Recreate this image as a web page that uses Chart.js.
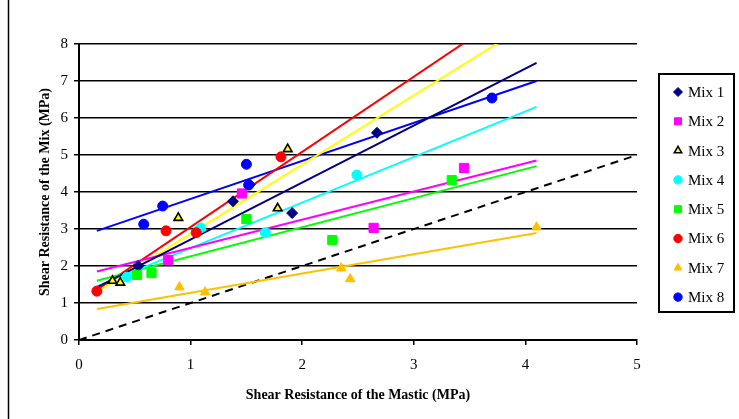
<!DOCTYPE html>
<html>
<head>
<meta charset="utf-8">
<script src="https://cdn.jsdelivr.net/npm/chart.js@4.4.1/dist/chart.umd.min.js"></script>
<style>
  html, body { margin: 0; padding: 0; background: #ffffff; }
  #wrap { width: 739px; height: 419px; position: relative; }
</style>
</head>
<body>
<div id="wrap"><canvas id="c" width="739" height="419"></canvas></div>
<script>
// ---- Data ----
const seriesNames = ['Mix 1', 'Mix 2', 'Mix 3', 'Mix 4', 'Mix 5', 'Mix 6', 'Mix 7', 'Mix 8'];

const mix1X = [0.53, 1.38, 1.53, 1.91, 2.67];
const mix1Y = [2.00, 3.75, 4.20, 3.43, 5.60];
const mix2X = [0.80, 1.46, 2.64, 3.45];
const mix2Y = [2.16, 3.96, 3.03, 4.65];
const mix3X = [0.30, 0.37, 0.89, 1.78, 1.87];
const mix3Y = [1.60, 1.55, 3.30, 3.56, 5.16];
const mix4X = [0.43, 1.09, 1.67, 2.49];
const mix4Y = [1.70, 3.03, 2.90, 4.46];
const mix5X = [0.52, 0.65, 1.50, 2.27, 3.34];
const mix5Y = [1.76, 1.81, 3.27, 2.70, 4.32];
const mix6X = [0.16, 0.78, 1.05, 1.81];
const mix6Y = [1.32, 2.95, 2.90, 4.95];
const mix7X = [0.90, 1.13, 2.35, 2.43, 4.10];
const mix7Y = [1.43, 1.29, 1.94, 1.65, 3.05];
const mix8X = [0.58, 0.75, 1.50, 1.52, 3.70];
const mix8Y = [3.13, 3.62, 4.75, 4.19, 6.54];

// linear trendlines: x range and y at each end, per mix
const trendX = [0.16, 4.10];
const trendStartY = [1.42, 1.85, 1.30, 1.45, 1.60, 1.35, 0.84, 2.95];
const trendEndY   = [7.49, 4.85, 8.67, 6.30, 4.70, 9.35, 2.89, 7.00];

// line of equality
const equalityX = [0, 5];
const equalityY = [0, 5];

// axis ticks
const xTicks = [0, 1, 2, 3, 4, 5];
const yTicks = [0, 1, 2, 3, 4, 5, 6, 7, 8];

// ---- Styles ----
const FONT = "'Liberation Serif', 'Times New Roman', serif";
const seriesX = [mix1X, mix2X, mix3X, mix4X, mix5X, mix6X, mix7X, mix8X];
const seriesY = [mix1Y, mix2Y, mix3Y, mix4Y, mix5Y, mix6Y, mix7Y, mix8Y];
const markerFill   = ['#000080', '#FF00FF', '#FFFF00', '#00FFFF', '#00FF00', '#FF0000', '#FFC000', '#0000FF'];
const markerBorder = ['#000080', '#FF00FF', '#000000', '#00FFFF', '#00FF00', '#FF0000', '#FFC000', '#0000FF'];
const markerBW     = [1, 1, 1.6, 1, 1, 1, 1, 1];
const markerStyle  = ['rectRot', 'rect', 'triangle', 'circle', 'rect', 'circle', 'triangle', 'circle'];
const markerRadius = [5.5, 6.5, 5, 5, 6.5, 5, 5.5, 5];
const lineColor    = ['#000080', '#FF00FF', '#FFFF00', '#00FFFF', '#00FF00', '#FF0000', '#FFC000', '#0000FF'];
const legendRadius = [4.5, 5, 4.2, 4.2, 5, 4.2, 4.5, 4.2];

const datasets = [];
seriesNames.forEach((name, i) => {
  datasets.push({
    type: 'scatter',
    label: name,
    data: seriesX[i].map((x, k) => ({ x: x, y: seriesY[i][k] })),
    pointStyle: markerStyle[i],
    pointRadius: markerRadius[i],
    pointHoverRadius: markerRadius[i],
    backgroundColor: markerFill[i],
    borderColor: markerBorder[i],
    pointBorderWidth: markerBW[i],
    showLine: false,
    order: 8 - i,
    isSeries: true,
    legendIndex: i
  });
});
seriesNames.forEach((name, i) => {
  datasets.push({
    type: 'line',
    label: name + ' trend',
    data: trendX.map((x, k) => ({ x: x, y: k === 0 ? trendStartY[i] : trendEndY[i] })),
    borderColor: lineColor[i],
    borderWidth: 2,
    pointRadius: 0,
    fill: false,
    tension: 0,
    order: 20 + i
  });
});
datasets.push({
  type: 'line',
  label: 'Equality',
  data: equalityX.map((x, k) => ({ x: x, y: equalityY[k] })),
  borderColor: '#000000',
  borderWidth: 2,
  borderDash: [8, 6],
  pointRadius: 0,
  fill: false,
  order: 40
});

// custom boxed legend + outer frame line
const legendPlugin = {
  id: 'boxLegend',
  afterDraw(chart) {
    const ctx = chart.ctx;
    ctx.save();
    // outer chart frame (left edge visible)
    ctx.strokeStyle = '#000';
    ctx.lineWidth = 1.5;
    ctx.beginPath();
    ctx.moveTo(8.5, 0); ctx.lineTo(8.5, 419);
    ctx.stroke();
    // legend box
    ctx.lineWidth = 2;
    ctx.strokeRect(659, 74, 75, 238);
    ctx.font = "15px " + FONT;
    ctx.textBaseline = 'middle';
    ctx.textAlign = 'left';
    ctx.fillStyle = '#000';
    const series = chart.data.datasets.filter(d => d.isSeries);
    series.forEach((d, i) => {
      const y = 92 + i * 29.3;
      const opts = { pointStyle: d.pointStyle, radius: legendRadius[i], rotation: 0, borderWidth: d.pointBorderWidth };
      ctx.fillStyle = d.backgroundColor;
      ctx.strokeStyle = d.borderColor;
      ctx.lineWidth = d.pointBorderWidth;
      Chart.helpers.drawPoint(ctx, opts, 678, y);
      ctx.fillStyle = '#000';
      ctx.fillText(d.label, 688, y + 1);
    });
    ctx.restore();
  }
};

new Chart(document.getElementById('c'), {
  data: { datasets: datasets },
  options: {
    responsive: false,
    animation: false,
    devicePixelRatio: 1,
    layout: { padding: { left: 0, right: 102, top: 44, bottom: 0 } },
    plugins: {
      legend: { display: false },
      tooltip: { enabled: false }
    },
    scales: {
      x: {
        type: 'linear',
        min: 0, max: 5,
        afterFit: (s) => { s.height = 79; },
        afterBuildTicks: (s) => { s.ticks = xTicks.map(v => ({ value: v })); },
        ticks: { color: '#000', font: { family: FONT, size: 15 }, padding: 11, maxRotation: 0 },
        grid: { drawOnChartArea: false, drawTicks: true, tickLength: 5, color: '#000', lineWidth: 1.5 },
        border: { display: true, color: '#000', width: 2 },
        title: {
          display: true,
          text: 'Shear Resistance of the Mastic (MPa)',
          color: '#000',
          font: { family: FONT, size: 14, weight: 'bold' },
          padding: { top: 0, bottom: 15 }
        }
      },
      y: {
        type: 'linear',
        min: 0, max: 8,
        afterFit: (s) => { s.width = 79; },
        afterBuildTicks: (s) => { s.ticks = yTicks.map(v => ({ value: v })); },
        ticks: { color: '#000', font: { family: FONT, size: 15 }, padding: 6 },
        grid: { drawOnChartArea: true, drawTicks: true, tickLength: 5, color: '#000', lineWidth: 1.5 },
        border: { display: true, color: '#000', width: 2 },
        title: {
          display: true,
          text: 'Shear Resistance of the Mix (MPa)',
          color: '#000',
          font: { family: FONT, size: 14, weight: 'bold' },
          padding: { top: 37, bottom: 0 }
        }
      }
    }
  },
  plugins: [legendPlugin]
});
</script>
</body>
</html>
